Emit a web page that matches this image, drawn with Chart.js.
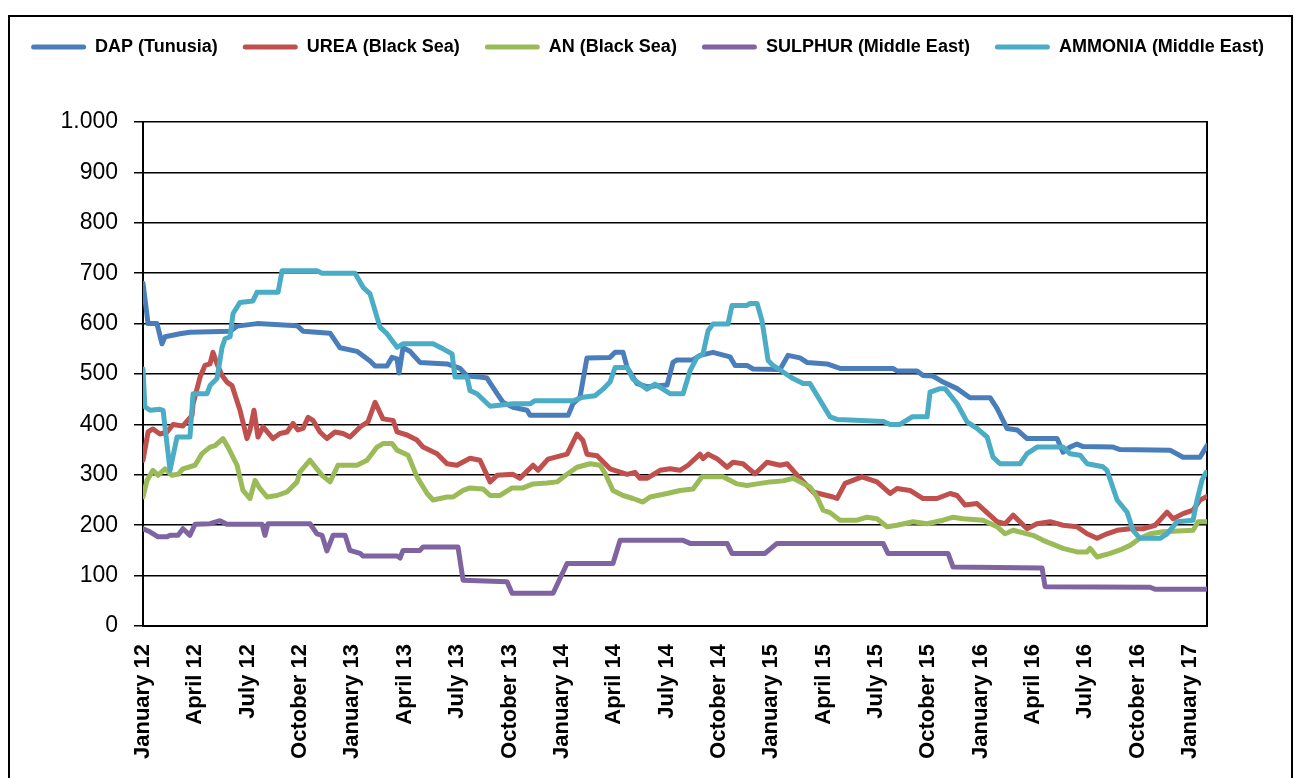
<!DOCTYPE html>
<html>
<head>
<meta charset="utf-8">
<script src="https://cdn.jsdelivr.net/npm/chart.js@4/dist/chart.umd.min.js"></script>
<style>
  html, body { margin: 0; padding: 0; background: #fff; }
  canvas { display: block; }
</style>
</head>
<body>
<canvas id="priceChart" width="1295" height="778"></canvas>
<script>
// x = months since January 2012, y = USD/t
const quarterNames = ['January', 'April', 'July', 'October'];
const firstYear = 12;

const dapX = [0,0.29,0.80,1.09,1.26,2.12,2.69,4.99,5.39,6.53,8.83,9.17,10.72,11.29,12.26,13.01,13.30,13.98,14.27,14.56,14.67,14.90,15.30,15.87,17.42,18.17,18.57,19.31,19.71,20.29,20.63,21.20,22.01,22.18,24.36,24.64,25.04,25.44,26.76,27.05,27.51,27.74,28.31,28.88,30.03,30.37,30.60,31.52,31.92,32.66,33.64,33.93,34.61,34.96,36.50,36.96,37.65,38.05,39.20,39.94,42.98,43.21,44.36,44.70,45.27,45.85,46.65,47.39,48.54,48.94,49.51,50.09,50.66,52.38,52.72,53.12,53.52,53.87,55.59,55.99,58.85,59.60,60.57,60.97];
const dapY = [680,600,600,560,574,580,583,585,595,600,596,585,581,552,545,526,516,516,533,530,502,552,545,523,520,511,496,494,492,461,444,434,428,418,418,441,454,532,533,543,543,513,481,475,478,523,528,528,537,543,534,517,517,510,509,537,532,523,520,511,511,506,506,497,496,484,471,453,453,432,392,389,372,372,345,355,361,356,355,350,349,335,335,358];

const ureaX = [0,0.29,0.57,0.97,1.38,1.72,2.29,2.81,2.87,3.27,3.55,3.84,4.01,4.24,4.53,4.81,5.10,5.56,5.96,6.13,6.36,6.59,6.88,7.45,7.85,8.25,8.60,8.88,9.17,9.46,9.74,10.14,10.54,11.00,11.46,11.86,12.44,12.89,13.30,13.75,14.33,14.56,15.13,15.70,16.05,16.85,17.42,17.99,18.74,19.31,19.89,20.29,21.20,21.60,22.35,22.64,23.21,24.30,24.87,25.21,25.44,26.02,26.76,27.74,28.19,28.48,28.88,29.63,30.20,30.77,31.23,31.92,32.09,32.38,32.89,33.47,33.81,34.38,35.07,35.76,36.50,36.91,37.65,38.40,39.54,39.77,40.23,41.20,42.06,42.81,43.21,43.95,44.70,45.50,46.25,46.65,47.11,47.79,48.94,49.40,49.86,50.66,51.23,51.98,52.72,53.52,54.10,54.67,55.24,55.82,56.56,57.31,58.00,58.68,59.03,59.60,60.17,60.57,60.97];
const ureaY = [329,385,391,381,385,400,397,418,441,494,517,520,543,520,497,484,477,428,372,389,428,375,395,372,382,385,402,389,392,414,408,385,372,385,382,375,395,405,444,411,408,385,379,369,355,342,322,319,333,329,286,299,301,293,319,309,331,341,381,368,341,338,312,301,305,293,293,309,312,309,319,341,332,341,332,315,325,322,302,325,319,322,293,266,256,253,283,296,286,263,273,269,253,253,263,259,240,243,207,203,220,193,203,207,200,197,183,174,183,190,193,193,200,226,213,223,230,250,257];

const anX = [0,0.23,0.57,0.86,1.26,1.66,2.01,2.29,2.98,3.38,3.84,4.13,4.58,4.87,5.39,5.73,6.13,6.42,6.70,7.11,7.68,8.25,8.83,9.00,9.57,10.26,10.72,11.17,12.26,12.84,13.41,13.75,14.27,14.56,15.19,15.70,16.28,16.62,17.42,17.77,18.34,18.74,19.48,19.89,20.46,21.15,21.78,22.35,23.15,23.72,24.30,24.87,25.62,26.19,26.48,26.93,27.51,28.08,28.65,29.05,30.03,30.77,31.52,32.03,33.24,34.04,34.61,35.19,35.93,36.68,37.25,38.22,38.62,38.97,39.37,39.94,40.92,41.49,42.06,42.64,43.21,44.13,44.93,45.85,46.42,46.99,48.14,48.94,49.40,49.86,51.00,51.58,52.72,53.52,54.10,54.27,54.67,55.42,55.99,56.56,57.13,57.71,58.45,60.17,60.46,60.97];
const anY = [256,289,309,299,312,299,301,312,319,342,355,358,372,355,319,269,253,289,273,256,259,266,286,306,329,299,286,319,319,329,355,362,362,349,339,296,263,250,256,256,269,274,272,259,259,274,274,282,284,286,301,315,322,319,303,269,259,253,246,256,263,269,272,296,296,282,279,282,286,288,293,276,256,230,225,210,210,216,213,197,200,207,203,210,216,213,210,197,183,190,180,170,154,147,147,154,137,144,151,160,174,183,187,190,207,207];

const sulX = [0,0.40,0.86,1.38,1.55,2.01,2.29,2.69,2.98,3.84,4.41,4.81,6.82,6.99,7.16,9.57,9.97,10.26,10.54,10.89,11.58,11.86,12.44,12.61,14.56,14.73,14.90,15.87,16.05,18.05,18.34,20.86,21.15,23.50,24.30,26.93,27.34,30.95,31.35,33.47,33.75,35.64,36.33,42.41,42.69,46.13,46.42,51.52,51.69,57.71,58.00,60.97];
const sulY = [193,187,177,177,180,180,193,180,202,203,209,202,202,180,203,203,183,180,149,180,180,150,144,139,139,135,150,150,157,157,91,88,65,65,124,124,170,170,164,164,144,144,164,164,144,144,117,115,78,77,73,73];

const ammX = [0,0.11,0.40,0.97,1.15,1.55,1.95,2.69,2.87,3.67,3.84,4.24,4.53,4.70,4.99,5.16,5.56,6.30,6.53,7.74,7.97,9.97,10.26,12.15,12.61,13.01,13.58,13.98,14.56,14.90,16.62,17.19,17.71,17.88,18.57,18.74,19.14,19.89,21.20,22.18,22.46,24.64,25.21,25.90,26.36,26.76,27.05,27.74,28.08,28.88,29.34,30.20,30.95,31.35,31.75,32.09,32.38,32.66,33.52,33.75,34.61,34.79,35.19,35.47,35.82,36.10,36.68,37.25,37.83,38.22,39.37,39.77,40.52,42.41,42.81,43.38,44.07,44.93,45.10,45.67,45.96,46.65,47.22,47.79,48.37,48.71,49.11,50.26,50.66,51.23,52.72,53.12,53.70,54.10,55.01,55.24,55.82,56.39,56.73,57.13,58.28,58.68,59.26,60.17,60.40,60.69,60.92];
const ammY = [510,435,428,430,428,309,375,375,461,461,477,491,553,570,574,620,642,645,662,662,705,705,700,700,672,659,593,580,553,560,560,550,540,494,494,467,461,436,441,441,447,447,454,457,470,484,513,513,490,470,480,461,461,507,533,540,586,599,599,636,636,640,640,606,527,517,504,491,481,481,415,410,409,406,400,400,415,415,464,471,471,441,405,392,375,335,322,322,342,355,355,342,339,322,316,309,250,226,190,174,174,183,207,210,250,290,305];

function pts(xs, ys) {
    return xs.map((x, i) => ({ x: x, y: ys[i] }));
}

function series(label, xs, ys, color, order) {
    return {
        label: label,
        data: pts(xs, ys),
        borderColor: color,
        backgroundColor: color,
        order: order
    };
}

Chart.defaults.font.family = "'Liberation Sans', Arial, sans-serif";
Chart.defaults.color = '#000';

// outer frame round the whole chart
const frame = {
    id: 'frame',
    afterDraw(chart) {
        const ctx = chart.ctx;
        ctx.save();
        ctx.strokeStyle = '#000';
        ctx.lineWidth = 2;
        ctx.strokeRect(9, 16, 1283, 800);
        ctx.restore();
    }
};

new Chart(document.getElementById('priceChart'), {
    type: 'line',
    data: {
        datasets: [
            series('DAP (Tunusia)', dapX, dapY, '#4A7EBB', 4),
            series('UREA (Black Sea)', ureaX, ureaY, '#C0504D', 3),
            series('AN (Black Sea)', anX, anY, '#9BBB59', 2),
            series('SULPHUR (Middle East)', sulX, sulY, '#8064A2', 1),
            series('AMMONIA (Middle East)', ammX, ammY, '#4BACC6', 0)
        ]
    },
    options: {
        responsive: false,
        animation: false,
        layout: {
            padding: { left: 0, right: 0, top: 13, bottom: 9 }
        },
        elements: {
            point: { radius: 0 },
            line: { borderWidth: 5, tension: 0, borderCapStyle: 'round', borderJoinStyle: 'round' }
        },
        plugins: {
            tooltip: { enabled: false },
            legend: {
                position: 'top',
                weight: 3000,
                labels: {
                    boxWidth: 55,
                    boxHeight: 5,
                    padding: 25,
                    useBorderRadius: true,
                    borderRadius: 2.5,
                    font: { size: 18, weight: 'bold' },
                    sort: (a, b) => a.datasetIndex - b.datasetIndex,
                    generateLabels: chart => Chart.defaults.plugins.legend.labels.generateLabels(chart)
                        .map(l => Object.assign(l, { lineWidth: 0 }))
                }
            },
            // empty title used only as a gap between legend and plot
            title: {
                display: true,
                text: '',
                font: { size: 10, lineHeight: 1 },
                padding: { top: 0, bottom: 46 }
            }
        },
        scales: {
            x: {
                type: 'linear',
                min: 0,
                max: 60.97,
                grid: { display: false },
                border: { display: true, color: '#000', width: 2 },
                ticks: {
                    stepSize: 3,
                    includeBounds: false,
                    autoSkip: false,
                    maxRotation: 90,
                    minRotation: 90,
                    padding: 10,
                    font: { size: 22, weight: 'bold' },
                    callback: v => quarterNames[Math.round(v / 3) % 4] + ' ' + (firstYear + Math.floor(Math.round(v) / 12))
                }
            },
            y: {
                min: 0,
                max: 1000,
                afterFit: s => { s.width = 143; },
                grid: { color: '#000', lineWidth: 1.5, tickLength: 9 },
                border: { color: '#000', width: 2 },
                ticks: {
                    stepSize: 100,
                    padding: 16,
                    font: { size: 23 },
                    callback: v => v >= 1000 ? Math.floor(v / 1000) + '.' + String(v % 1000).padStart(3, '0') : String(v)
                }
            },
            yRight: {
                position: 'right',
                min: 0,
                max: 1000,
                afterFit: s => { s.width = 88; },
                grid: { display: false },
                border: { display: true, color: '#000', width: 2 },
                ticks: { display: false }
            }
        }
    },
    plugins: [frame]
});
</script>
</body>
</html>
